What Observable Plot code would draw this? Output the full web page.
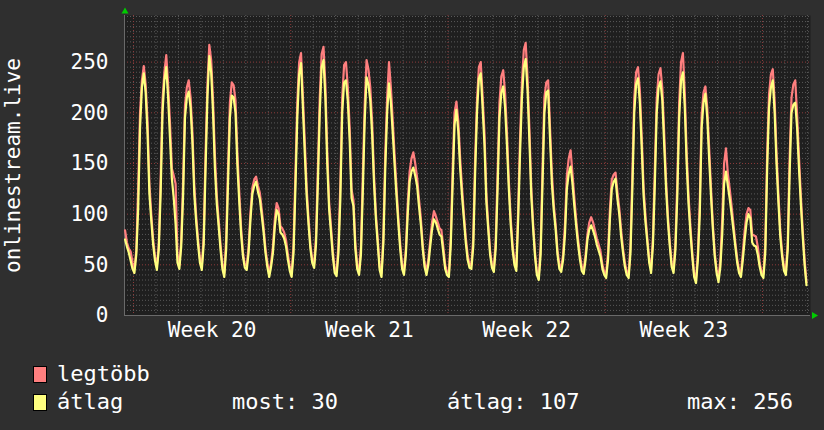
<!DOCTYPE html>
<html><head><meta charset="utf-8">
<script src="https://cdn.jsdelivr.net/npm/d3@7"></script>
<script src="https://cdn.jsdelivr.net/npm/@observablehq/plot@0.6"></script>
<style>
html,body{margin:0;padding:0;background:#2f2f2f;}
body{width:824px;height:430px;overflow:hidden;font-family:"DejaVu Sans Mono",monospace;color:#fff;}
#legend{position:relative;height:80px;}
.sw{position:absolute;width:12px;height:15px;border:1px solid #000;}
.lt{position:absolute;font-size:22px;line-height:1;white-space:pre;}
</style></head><body><div id="chart"></div><div id="legend"></div>
<script>
// 2-hour samples, first sample at t = -9 h (relative to start of Week 20)
const startHour = -9, stepHours = 2;
// átlag (average) series
const atlag = [
  75, 68, 62, 54, 46,
  42, 60, 105, 185, 225, 239, 220, 180, 120, 94, 70, 54,
  45, 65, 120, 200, 232, 245, 215, 175, 135, 116, 90, 52,
  46, 68, 118, 195, 215, 221, 205, 170, 119, 92, 70, 52,
  45, 70, 145, 215, 256, 240, 200, 145, 110, 88, 65, 46,
  38, 65, 130, 195, 217, 215, 200, 148, 112, 80, 58, 47,
  45, 62, 95, 120, 128, 132, 122, 115, 99, 82, 62, 48,
  38, 48, 62, 88, 104, 100, 82, 80, 76, 68, 55, 44,
  38, 62, 125, 195, 238, 249, 205, 160, 118, 90, 66, 52,
  47, 70, 130, 200, 245, 252, 215, 150, 105, 82, 58, 42,
  39, 62, 115, 200, 230, 232, 211, 172, 116, 108, 66, 46,
  40, 60, 122, 192, 235, 228, 212, 178, 130, 95, 70, 45,
  38, 72, 145, 200, 229, 210, 180, 148, 118, 90, 65, 46,
  40, 60, 100, 132, 142, 146, 138, 128, 108, 90, 66, 48,
  40, 50, 68, 85, 95, 92, 86, 80, 78, 62, 46, 40,
  38, 70, 130, 188, 203, 182, 145, 118, 95, 72, 55, 47,
  46, 68, 140, 200, 234, 239, 205, 168, 112, 85, 60, 47,
  43, 66, 125, 195, 220, 226, 205, 168, 125, 90, 65, 50,
  44, 95, 160, 215, 245, 253, 222, 172, 118, 85, 58, 40,
  35, 60, 130, 200, 220, 222, 175, 130, 104, 85, 60, 46,
  43, 55, 80, 125, 140, 147, 130, 108, 88, 70, 55, 44,
  41, 55, 75, 85, 89, 84, 78, 70, 64, 58, 46, 40,
  37, 55, 95, 125, 132, 135, 115, 100, 78, 62, 48, 40,
  37, 62, 125, 200, 228, 234, 210, 165, 118, 92, 72, 52,
  42, 70, 130, 200, 225, 231, 212, 168, 125, 92, 68, 48,
  42, 65, 118, 195, 232, 240, 205, 150, 110, 82, 58, 38,
  32, 55, 100, 185, 210, 219, 195, 155, 118, 85, 58, 42,
  33, 48, 80, 130, 142, 128, 115, 100, 84, 68, 52, 42,
  38, 55, 75, 92, 100, 96, 72, 69, 68, 60, 48, 40,
  37, 62, 145, 205, 225, 232, 200, 150, 112, 78, 58, 44,
  40, 65, 140, 200, 208, 210, 185, 145, 110, 78, 50, 30
];
// legtöbb (maximum) series
const legtobb = [
  84, 72, 66, 63, 52,
  46, 64, 125, 200, 232, 246, 228, 192, 130, 100, 75, 58,
  49, 70, 135, 212, 240, 257, 228, 190, 145, 138, 130, 60,
  50, 74, 132, 207, 225, 232, 215, 180, 128, 98, 75, 56,
  49, 78, 160, 228, 267, 252, 212, 158, 118, 94, 70, 50,
  42, 75, 145, 210, 230, 227, 212, 160, 122, 86, 62, 50,
  49, 68, 102, 126, 134, 137, 128, 121, 105, 87, 66, 52,
  42, 52, 68, 95, 111, 106, 88, 86, 82, 74, 60, 48,
  42, 70, 140, 210, 250, 259, 216, 172, 126, 96, 70, 55,
  51, 78, 145, 215, 258, 265, 228, 162, 112, 88, 63, 46,
  43, 70, 130, 215, 247, 250, 225, 185, 124, 114, 72, 50,
  44, 68, 138, 207, 252, 243, 225, 190, 138, 100, 75, 48,
  42, 80, 160, 215, 250, 225, 192, 158, 126, 96, 70, 50,
  44, 66, 110, 142, 155, 161, 150, 136, 115, 96, 70, 52,
  44, 55, 74, 92, 103, 98, 92, 86, 84, 68, 50, 43,
  42, 78, 145, 200, 211, 192, 155, 126, 100, 77, 60, 50,
  50, 76, 155, 212, 245, 250, 216, 180, 120, 90, 64, 50,
  47, 74, 140, 210, 236, 242, 220, 180, 133, 96, 70, 53,
  48, 105, 175, 230, 262, 269, 235, 184, 126, 90, 62, 42,
  39, 68, 145, 215, 230, 232, 186, 140, 110, 90, 64, 50,
  47, 60, 90, 138, 155, 163, 140, 116, 94, 75, 60, 48,
  45, 60, 80, 92, 97, 92, 84, 76, 70, 63, 50, 43,
  41, 62, 105, 134, 139, 141, 122, 106, 84, 66, 52, 43,
  41, 70, 140, 214, 240, 245, 222, 176, 126, 98, 76, 55,
  46, 78, 145, 214, 238, 244, 224, 180, 133, 98, 72, 51,
  46, 72, 132, 210, 250, 259, 220, 160, 118, 88, 62, 41,
  36, 62, 112, 198, 220, 226, 205, 166, 126, 90, 62, 45,
  37, 55, 95, 150, 165, 140, 125, 108, 90, 72, 56, 45,
  42, 62, 84, 100, 106, 104, 80, 79, 78, 68, 52, 43,
  41, 70, 160, 218, 238, 243, 212, 160, 120, 84, 62, 48,
  44, 72, 155, 215, 228, 232, 198, 156, 118, 84, 55, 33
];
const weekLabels = ["Week 20", "Week 21", "Week 22", "Week 23"];
const yTickValues = [0, 50, 100, 150, 200, 250];
const yAxisTitle = "onlinestream.live";
const seriesNames = ["legtöbb", "átlag"];
const seriesColors = ["#ff7f7f", "#ffff7f"];
const statLabels = ["most: 30", "átlag: 107", "max: 256"];

const data = atlag.map((v, i) => ({t: startHour + stepHours * i, avg: v, max: legtobb[i]}));
const weekMid = weekLabels.map((_, i) => 84 + 168 * i);
const dayLines = d3.range(0, 721, 24);
const minorDays = dayLines.filter(d => d % 168 !== 0);
const weekLines = dayLines.filter(d => d % 168 === 0);
const minorY = d3.range(5, 296, 5).filter(v => v % 50 !== 0);
const majorY = [50, 100, 150, 200, 250];

const chart = Plot.plot({
  width: 824, height: 350,
  marginLeft: 124, marginRight: 14, marginTop: 15, marginBottom: 35,
  style: {background: "#2f2f2f", color: "#ffffff", fontFamily: "DejaVu Sans Mono", fontSize: "21px", overflow: "visible"},
  x: {domain: [-9.6, 723.3]},
  y: {domain: [0, 296]},
  marks: [
    Plot.frame({fill: "#1f1f1f", stroke: null}),
    Plot.ruleY(minorY, {stroke: "#5a5a5a", strokeDasharray: "1,2"}),
    Plot.ruleX(minorDays, {stroke: "#5a5a5a", strokeDasharray: "1,2"}),
    Plot.ruleY(majorY, {stroke: "#8c3c3c", strokeDasharray: "1,2"}),
    Plot.ruleX(weekLines, {stroke: "#8c3c3c", strokeDasharray: "1,2"}),
    Plot.axisX({ticks: weekMid, tickFormat: d => weekLabels[weekMid.indexOf(d)], tickSize: 0, tickPadding: 7, label: null, fill: "#ffffff"}),
    Plot.axisY({ticks: yTickValues, tickSize: 0, tickPadding: 16, label: null, fill: "#ffffff"}),
    Plot.ruleY([0], {stroke: "#6a6a6a"}),
    Plot.ruleX([-9.6], {stroke: "#6a6a6a"}),
    Plot.line(data, {x: "t", y: "max", stroke: seriesColors[0], strokeWidth: 2.2}),
    Plot.line(data, {x: "t", y: "avg", stroke: seriesColors[1], strokeWidth: 2.2}),
    Plot.dot([0], {frameAnchor: "top-left", symbol: "triangle", r: 2.6, fill: "#00cc00", stroke: null, dy: -4, dx: 0.5}),
    Plot.dot([0], {frameAnchor: "bottom-right", symbol: "triangle", r: 2.6, fill: "#00cc00", stroke: null, rotate: 90, dx: 3.5}),
    Plot.text([yAxisTitle], {frameAnchor: "left", text: d => d, rotate: -90, dx: -105, textAnchor: "middle", lineAnchor: "bottom", fill: "#ffffff", fontSize: 21})
  ]
});
document.getElementById("chart").appendChild(chart);

const lg = document.getElementById("legend");
function add(cls, left, top, text, bg) {
  const el = document.createElement("div");
  el.className = cls;
  el.style.left = left + "px";
  el.style.top = top + "px";
  if (text) el.textContent = text;
  if (bg) el.style.background = bg;
  lg.appendChild(el);
}
add("sw", 33, 16, null, seriesColors[0]);
add("sw", 33, 44, null, seriesColors[1]);
add("lt", 57, 13, seriesNames[0]);
add("lt", 57, 41, seriesNames[1]);
add("lt", 232, 41, statLabels[0]);
add("lt", 447, 41, statLabels[1]);
add("lt", 687, 41, statLabels[2]);
</script></body></html>
